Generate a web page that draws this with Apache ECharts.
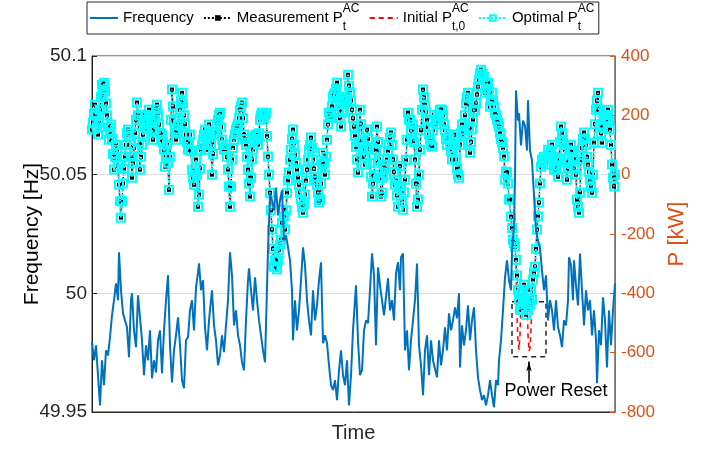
<!DOCTYPE html>
<html>
<head>
<meta charset="utf-8">
<script src="https://cdn.jsdelivr.net/npm/echarts@6/dist/echarts.min.js"></script>
<style>
  html, body { margin: 0; padding: 0; background: #ffffff; }
  #chart { width: 710px; height: 450px; }
</style>
</head>
<body>
<div id="chart"></div>
<script>
// Grid frequency [time step, Hz]
const freqSamples = [
  [0,49.9794],[2,49.9718],[4,49.9781],[6,49.9655],[8,49.9528],[10,49.9718],[12,49.9613],[14,49.9760],
  [16,49.9739],[18,49.9815],[20,49.9907],[22,49.9971],[24,50.0042],[26,49.9971],[27,50.0173],[29,50.0013],
  [31,49.9916],[33,49.9886],[35,49.9857],[37,49.9731],[39,49.9971],[40,50.0000],[42,49.9844],[44,49.9773],
  [46,49.9992],[48,50.0000],[50,49.9802],[52,49.9655],[54,49.9781],[56,49.9718],[58,49.9844],[60,49.9642],
  [62,49.9718],[64,49.9667],[66,49.9802],[68,49.9844],[70,49.9663],[72,49.9844],[74,49.9971],[76,50.0076],
  [78,49.9781],[80,49.9625],[82,49.9760],[84,49.9823],[86,49.9899],[88,49.9781],[90,49.9634],[92,49.9600],
  [94,49.9802],[96,49.9815],[98,49.9928],[100,49.9971],[102,49.9844],[104,50.0025],[106,50.0088],[107,50.0126],
  [109,50.0013],[111,50.0055],[113,49.9857],[115,49.9760],[117,49.9886],[119,49.9971],[120,50.0013],[122,49.9865],
  [124,49.9802],[126,49.9697],[128,49.9739],[130,49.9823],[132,49.9752],[134,49.9865],[136,49.9971],[138,50.0173],
  [140,50.0076],[142,49.9865],[144,49.9928],[146,49.9823],[148,49.9781],[150,49.9710],[152,49.9676],[154,49.9886],
  [156,50.0055],[157,50.0105],[159,50.0013],[161,49.9928],[163,50.0067],[165,49.9971],[167,49.9886],[169,49.9823],
  [171,49.9760],[173,49.9710],[174,49.9705],[176,50.0181],[178,50.0421],[180,50.0392],[182,50.0349],[184,50.0446],
  [186,50.0328],[188,50.0392],[190,50.0434],[192,50.0223],[194,50.0244],[196,50.0194],[198,50.0139],[200,50.0013],
  [201,49.9802],[203,49.9971],[205,49.9844],[207,49.9928],[209,50.0055],[211,50.0194],[213,50.0118],[215,49.9971],
  [217,49.9886],[219,49.9823],[221,50.0013],[223,49.9886],[225,49.9949],[227,50.0055],[229,50.0131],[231,49.9790],
  [233,49.9823],[235,49.9790],[237,49.9697],[239,49.9613],[241,49.9592],[243,49.9634],[245,49.9550],[247,49.9676],
  [249,49.9760],[251,49.9655],[253,49.9613],[255,49.9718],[257,49.9528],[259,49.9655],[261,49.9844],[264,50.0034],
  [266,49.9802],[268,49.9655],[270,49.9676],[272,49.9844],[274,49.9886],[276,49.9874],[278,50.0013],[280,50.0168],
  [282,50.0076],[284,49.9781],[286,50.0109],[288,50.0034],[290,49.9971],[292,49.9907],[294,49.9899],[296,50.0063],
  [298,49.9928],[300,49.9971],[302,49.9886],[304,50.0084],[306,50.0131],[308,50.0013],[309,50.0152],[311,50.0168],
  [313,49.9760],[315,49.9844],[317,49.9676],[319,49.9802],[321,49.9886],[323,49.9971],[325,50.0126],[327,49.9781],
  [329,49.9697],[331,49.9571],[333,49.9760],[335,49.9823],[337,49.9655],[339,49.9802],[341,49.9718],[343,49.9718],
  [345,49.9646],[347,49.9802],[349,49.9697],[351,49.9760],[353,49.9857],[355,49.9760],[357,49.9916],[359,49.9844],
  [361,49.9886],[363,49.9941],[365,49.9895],[367,50.0000],[368,49.9688],[370,49.9865],[372,49.9781],[374,49.9844],
  [376,49.9949],[378,49.9802],[380,49.9886],[382,49.9941],[384,49.9760],[386,49.9646],[388,49.9592],[390,49.9550],
  [392,49.9571],[394,49.9528],[396,49.9571],[398,49.9634],[400,49.9571],[402,49.9520],[404,49.9634],[406,49.9613],
  [407,49.9718],[409,49.9802],[411,49.9928],[413,50.0067],[415,50.0139],[417,50.0055],[419,50.0013],[420,50.0181],
  [422,50.0278],[423,50.0488],[424,50.0855],[426,50.0728],[427,50.0758],[429,50.0623],[431,50.0728],[433,50.0707],
  [435,50.0602],[436,50.0813],[438,50.0602],[440,50.0560],[442,50.0413],[444,50.0265],[446,50.0223],[448,50.0189],
  [450,50.0097],[452,50.0013],[454,50.0076],[456,49.9886],[458,49.9971],[460,49.9928],[462,49.9844],[464,49.9971],
  [466,49.9857],[468,49.9823],[470,49.9773],[472,49.9886],[474,49.9865],[476,49.9971],[477,50.0152],[479,50.0118],
  [481,49.9971],[482,50.0139],[484,50.0034],[486,49.9949],[488,50.0168],[490,50.0013],[492,49.9865],[494,50.0013],
  [496,49.9928],[498,49.9971],[500,49.9823],[502,49.9928],[504,49.9802],[505,49.9621],[507,49.9844],[509,49.9781],
  [511,49.9983],[513,49.9886],[515,49.9688],[517,49.9928],[519,49.9781],[521,49.9928],[523,50.0042]
];

// Battery active power, one value per time step 0..523 [kW] (measured; optimal set-point follows it)
const powerTrace = [
  152, 175, 205, 236, 200, 160, 135, 175, 219, 262,
  303, 270, 310, 280, 240, 200, 160, 118, 140, 169,
  120, 70, 17, 60, 100, 84, 30, -34, -90, -145,
  -90, -30, 20, 60, 100, 140, 152, 130, 101, 60,
  -10, 40, 90, 140, 185, 243, 200, 110, 17, 60,
  101, 135, 170, 202, 180, 152, 185, 219, 200, 185,
  150, 118, 150, 185, 220, 236, 200, 169, 140, 118,
  135, 110, 84, 27, 60, 101, 40, -51, 60, 185,
  287, 230, 180, 152, 118, 140, 169, 190, 219, 250,
  276, 240, 200, 170, 135, 110, 84, 110, 135, 80,
  17, -10, -34, 10, 51, 0, -108, -67, 20, 84,
  100, 118, 135, 152, 120, 84, 130, 169, 140, 101,
  0, 70, 135, 145, 152, 170, 185, 200, 209, 160,
  118, 100, 84, 90, 101, 60, 17, -40, -108, -40,
  51, 90, 118, 135, 152, 160, 169, 190, 219, 230,
  243, 190, 135, 120, 101, 60, 17, -30, -74, -10,
  51, 85, 118, 130, 135, 120, 101, 140, 185, 200,
  209, 200, 192, 200, 209, 130, 61, 0, -61, -120,
  -185, -250, -310, -290, -287, -320, -290, -253, -235, -219,
  -162, -118, -140, -185, -120, -61, -20, 7, 50, 84,
  120, 152, 100, 67, 40, 17, -10, -34, -60, -84,
  -110, -128, -100, -67, -20, 17, 50, 84, 100, 125,
  90, 51, 20, -7, -20, -34, -60, -94, -84, -30,
  34, 74, 40, 0, 60, 118, 170, 209, 200, 192,
  230, 263, 270, 276, 290, 310, 260, 219, 190, 162,
  210, 253, 250, 243, 255, 263, 337, 300, 276, 250,
  219, 190, 162, 130, 94, 51, 7, 110, 219, 170,
  118, 84, 60, 34, 90, 152, 120, 84, 40, -7,
  -74, -30, 0, 40, 84, 162, 110, 51, -10, -74,
  -61, -10, 34, 20, 0, 51, 80, 101, 125, 142,
  100, 51, 10, -34, -20, -70, -108, -40, 30, -50,
  -94, -118, -60, -17, 50, 118, 209, 185, 185, 150,
  118, 169, 110, 51, -30, -108, -84, 0, 84, 150,
  219, 287, 260, 236, 210, 185, 160, 135, 118, 101,
  94, 150, 202, 185, 169, 185, 200, 185, 219, 219,
  219, 200, 169, 150, 120, 101, 120, 135, 100, 80,
  51, 90, 135, 100, 51, 20, 0, -10, 101, 140,
  169, 150, 135, 200, 240, 260, 276, 160, 74, 110,
  152, 185, 219, 219, 240, 270, 297, 320, 340, 354,
  340, 330, 330, 276, 290, 310, 310, 280, 229, 250,
  276, 250, 230, 209, 200, 185, 175, 162, 140, 120,
  108, 90, 61, -17, 10, 7, -30, -84, -84, -142,
  -180, -219, -230, -243, -287, -340, -388, -421, -455, -405,
  -455, -421, -371, -421, -472, -388, -455, -421, -438, -388,
  -421, -354, -330, -310, -250, -185, -140, -94, -30, 27,
  51, 40, 60, 51, 34, 60, 84, 70, 51, 80,
  101, 60, 17, 30, 51, 20, -7, 50, 110, 162,
  140, 118, 100, 84, 40, -17, 20, 51, 80, 101,
  80, 51, 20, 51, 0, -84, -110, -128, -60, 51,
  90, 120, 142, 120, 101, 60, 34, 10, -17, -40,
  -61, 0, 108, 170, 219, 250, 276, 220, 169, 140,
  108, 160, 202, 190, 185, 200, 219, 180, 152, 100,
  34, -10, -40, 0
];

// Initial set-point during the power reset [time step, kW]
const resetInitial = [[425,-480],[426,-560],[427,-590],[428,-540],[436,-540],[437,-595],[438,-585],[439,-520]];

// Power reset annotation
const resetBox = { t0: 420, t1: 454, pTop: -428, pBottom: -614 };
const resetArrow = { t: 437, pFrom: -701, pTo: -630 };
const resetLabel = { t: 464, p: -731, text: 'Power Reset' };

const axisTicksFreq = { min: 49.95, max: 50.1, interval: 0.05 };
const axisTicksPower = { min: -800, max: 400, interval: 200 };

const FONT = 'Liberation Sans, Arial, Helvetica, sans-serif';
const ORANGE = '#D95319';
const INK = '#262626';

const measuredData = powerTrace.map((v, i) => [i, v]);
const initialMap = new Map(resetInitial.map(d => [d[0], d[1]]));
const initialData = powerTrace.map((v, i) => [i, initialMap.has(i) ? initialMap.get(i) : v]);

const legendText = {
  Frequency: '{b|Frequency}',
  Measurement: '{b|Measurement P}{sup|AC}{sub|t}',
  Initial: '{b|Initial P}{sup|AC}{sub|t,0}',
  Optimal: '{b|Optimal P}{sup|AC}{sub|t}'
};

const chart = echarts.init(document.getElementById('chart'), null, { renderer: 'canvas' });
chart.setOption({
  animation: false,
  backgroundColor: '#ffffff',
  textStyle: { fontFamily: FONT },
  grid: {
    left: 92, right: 95, top: 56, bottom: 38,
    show: true, borderColor: INK, borderWidth: 1, backgroundColor: 'transparent'
  },
  legend: {
    data: [
      { name: 'Frequency', itemStyle: { opacity: 0 } },
      { name: 'Measurement' },
      { name: 'Initial', itemStyle: { opacity: 0 } },
      { name: 'Optimal' }
    ],
    left: 87, top: 2,
    itemWidth: 28, itemHeight: 7, itemGap: 9,
    padding: [1, 4, 1, 2],
    borderColor: INK, borderWidth: 1,
    formatter: name => legendText[name],
    textStyle: {
      fontFamily: FONT, fontSize: 15, color: '#000',
      rich: {
        b: { fontFamily: FONT, fontSize: 15, lineHeight: 30, color: '#000' },
        sup: { fontFamily: FONT, fontSize: 12, lineHeight: 14, verticalAlign: 'top', width: 0, color: '#000' },
        sub: { fontFamily: FONT, fontSize: 12, lineHeight: 10, verticalAlign: 'bottom', width: 17, color: '#000' }
      }
    }
  },
  xAxis: {
    type: 'value', min: 0, max: 523,
    name: 'Time', nameLocation: 'middle', nameGap: 11,
    nameTextStyle: { fontFamily: FONT, fontSize: 20, color: INK, verticalAlign: 'top' },
    axisLine: { show: true, onZero: false, lineStyle: { color: INK, width: 1 } },
    axisTick: { show: false },
    axisLabel: { show: false },
    splitLine: { show: false }
  },
  yAxis: [
    {
      type: 'value', position: 'left',
      min: axisTicksFreq.min, max: axisTicksFreq.max, interval: axisTicksFreq.interval,
      name: 'Frequency [Hz]', nameLocation: 'middle', nameGap: 49, nameMoveOverlap: false,
      nameTextStyle: { fontFamily: FONT, fontSize: 21, color: '#000' },
      axisLine: { show: true, onZero: false, lineStyle: { color: INK, width: 1 } },
      axisTick: { show: true, inside: true, length: 5, lineStyle: { color: INK } },
      axisLabel: {
        fontFamily: FONT, fontSize: 19, color: INK, margin: 5,
        formatter: v => String(Math.round(v * 100) / 100)
      },
      splitLine: { show: true, lineStyle: { color: '#dcdcdc', width: 1 } }
    },
    {
      type: 'value', position: 'right',
      min: axisTicksPower.min, max: axisTicksPower.max, interval: axisTicksPower.interval,
      name: 'P [kW]', nameLocation: 'middle', nameGap: 50, nameRotate: 90,
      nameTextStyle: { fontFamily: FONT, fontSize: 22, color: ORANGE },
      axisLine: { show: true, onZero: false, lineStyle: { color: ORANGE, width: 1 } },
      axisTick: { show: true, inside: true, length: 5, lineStyle: { color: ORANGE } },
      axisLabel: { fontFamily: FONT, fontSize: 17, color: ORANGE, margin: 6 },
      splitLine: { show: false }
    }
  ],
  series: [
    {
      name: 'Frequency', type: 'line', yAxisIndex: 0, z: 6,
      data: freqSamples, symbol: 'none', showSymbol: false,
      lineStyle: { color: '#0072BD', width: 2 }, itemStyle: { color: '#0072BD' }
    },
    {
      name: 'Initial', type: 'line', yAxisIndex: 1, z: 2,
      data: initialData, symbol: 'none', showSymbol: false,
      lineStyle: { color: '#FF0000', width: 1.5, type: [5, 4] }, itemStyle: { color: '#FF0000' },
      markArea: {
        silent: true,
        itemStyle: { color: 'rgba(0,0,0,0)', borderColor: INK, borderWidth: 1.5, borderType: [5, 4] },
        label: { show: false },
        data: [[{ coord: [resetBox.t0, resetBox.pTop] }, { coord: [resetBox.t1, resetBox.pBottom] }]]
      },
      markLine: {
        silent: true,
        symbol: ['none', 'arrow'], symbolSize: [4, 10],
        lineStyle: { color: '#000', width: 1.5, type: 'solid' },
        label: { show: false },
        data: [[{ coord: [resetArrow.t, resetArrow.pFrom] }, { coord: [resetArrow.t, resetArrow.pTo] }]]
      },
      markPoint: {
        silent: true,
        data: [{
          coord: [resetLabel.t, resetLabel.p], symbol: 'circle', symbolSize: 1,
          itemStyle: { color: 'rgba(0,0,0,0)' },
          label: { show: true, position: 'inside', formatter: resetLabel.text, fontFamily: FONT, fontSize: 18, color: '#000' }
        }]
      }
    },
    {
      name: 'Measurement', type: 'line', yAxisIndex: 1, z: 3,
      data: measuredData, symbol: 'rect', symbolSize: 4, showSymbol: true, showAllSymbol: true,
      lineStyle: { color: '#000', width: 1, type: 'dotted' }, itemStyle: { color: '#000' }
    },
    {
      name: 'Optimal', type: 'line', yAxisIndex: 1, z: 4,
      data: measuredData, symbol: 'rect', symbolSize: 8, showSymbol: true, showAllSymbol: true,
      lineStyle: { color: '#00FFFF', width: 2, type: 'dotted' },
      itemStyle: { color: 'rgba(0,0,0,0)', borderColor: '#00FFFF', borderWidth: 2 }
    }
  ]
});
</script>
</body>
</html>
